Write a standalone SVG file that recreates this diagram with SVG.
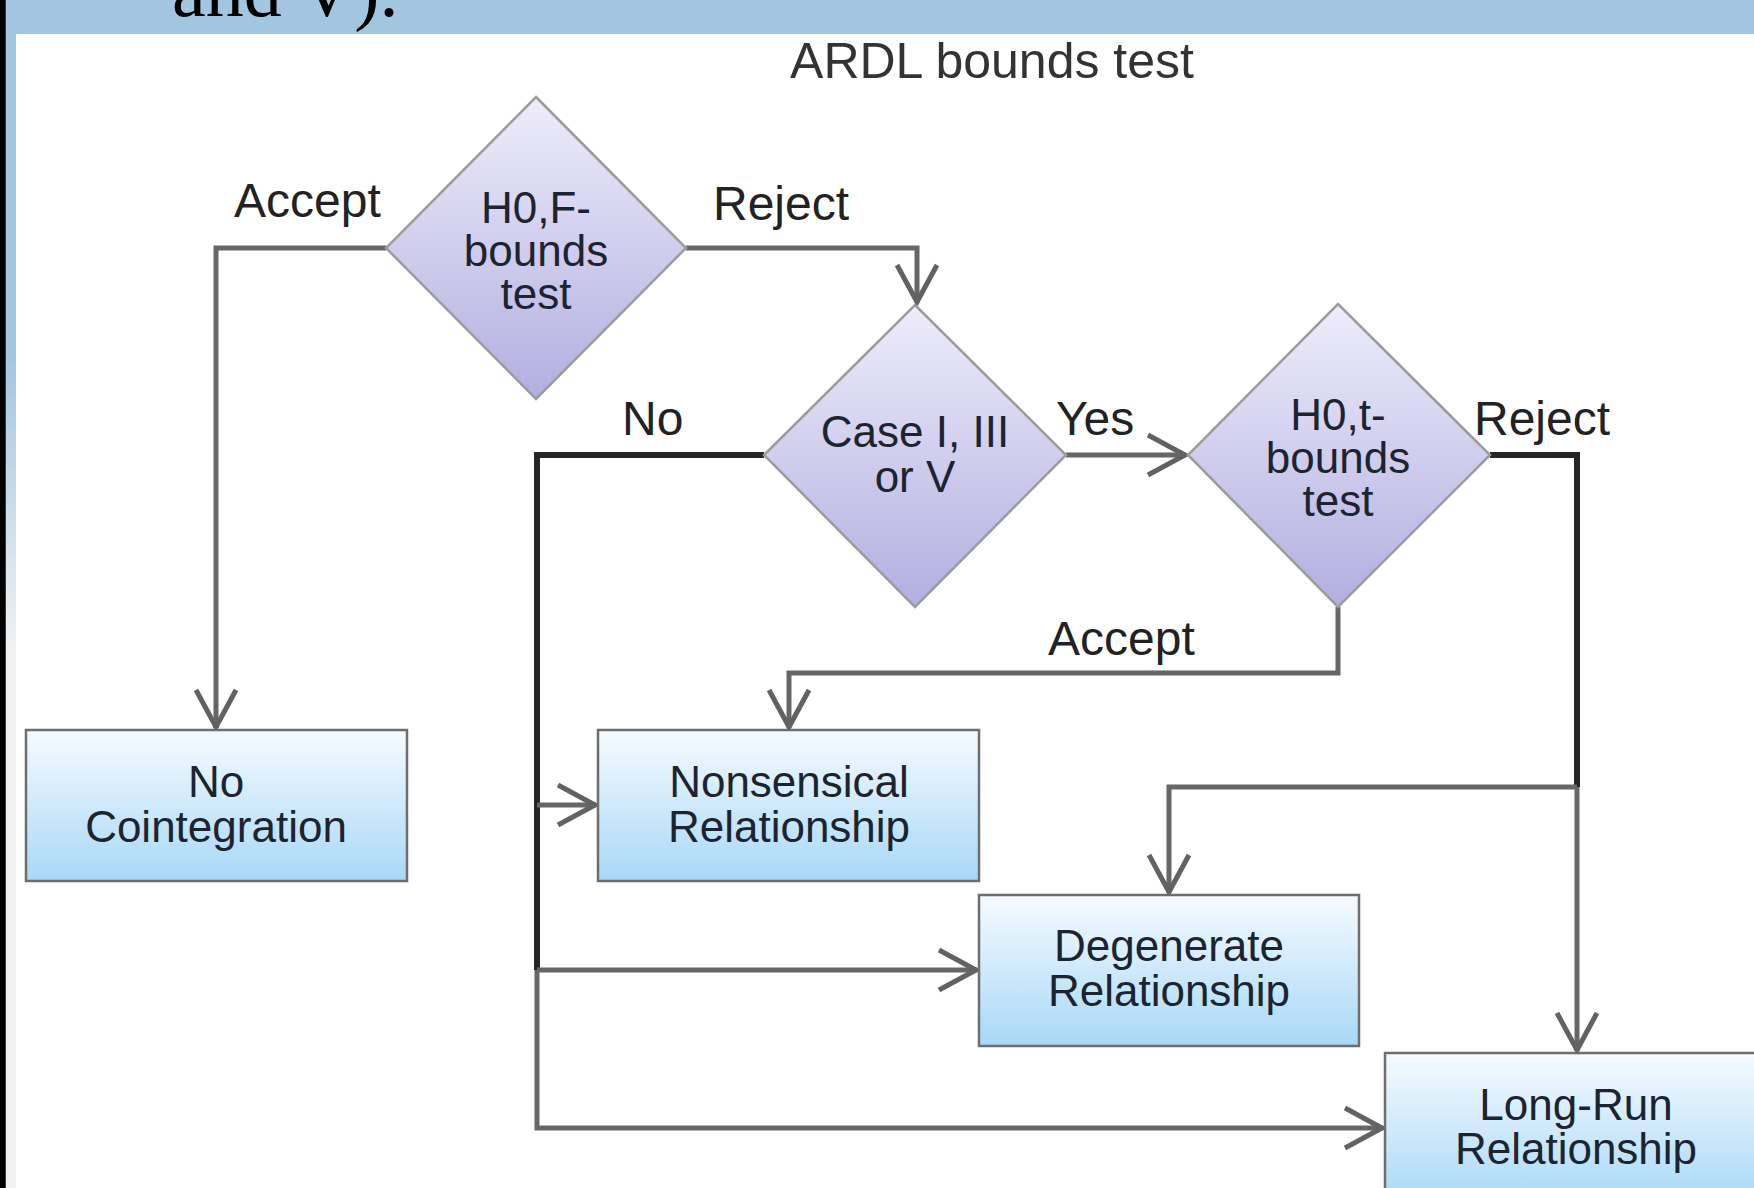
<svg xmlns="http://www.w3.org/2000/svg" width="1754" height="1188" viewBox="0 0 1754 1188">
  <defs>
    <linearGradient id="gDia" x1="0" y1="0" x2="0" y2="1">
      <stop offset="0" stop-color="#eeedfb"/>
      <stop offset="1" stop-color="#b2aee0"/>
    </linearGradient>
    <linearGradient id="gBox" x1="0" y1="0" x2="0" y2="1">
      <stop offset="0" stop-color="#f6fbff"/>
      <stop offset="1" stop-color="#a8d8f7"/>
    </linearGradient>
    <linearGradient id="gStrip" x1="0" y1="0" x2="0" y2="1">
      <stop offset="0" stop-color="#a3c6e0"/>
      <stop offset="0.3" stop-color="#a3c6e0"/>
      <stop offset="0.55" stop-color="#f2f2f2"/>
      <stop offset="1" stop-color="#f2f2f2"/>
    </linearGradient>
    <marker id="arr" viewBox="-45 -25 50 50" refX="0" refY="0" markerWidth="50" markerHeight="50" markerUnits="userSpaceOnUse" orient="auto" overflow="visible">
      <path d="M-38,-20 L-1,0 L-38,20" fill="none" stroke="#626262" stroke-width="5" stroke-linejoin="miter"/>
    </marker>
    <style>
      .dia { fill: url(#gDia); stroke: #9c9c9c; stroke-width: 2.5; }
      .box { fill: url(#gBox); stroke: #6e6e6e; stroke-width: 2.5; }
      .ntxt { font-family: "Liberation Sans", Arial, sans-serif; font-size: 44px; fill: #1c2430; text-anchor: middle; }
      .lbl { font-family: "Liberation Sans", Arial, sans-serif; font-size: 48px; fill: #222222; }
      .title { font-family: "Liberation Sans", Arial, sans-serif; font-size: 50px; fill: #333333; text-anchor: middle; }
      .con { fill: none; stroke: #666666; stroke-width: 5; }
      .dark { fill: none; stroke: #262626; stroke-width: 6; }
    </style>
  </defs>

  <rect x="0" y="0" width="1754" height="1188" fill="#ffffff"/>
  <rect x="0" y="0" width="1754" height="34" fill="#a3c6e0"/>
  <rect x="5" y="0" width="11" height="1188" fill="url(#gStrip)"/>
  <rect x="0" y="0" width="5" height="1188" fill="#000000"/>
  <rect x="5" y="0" width="1" height="1188" fill="#3a3a3a"/>
  <text x="172" y="16" font-family="Liberation Serif, Times New Roman, serif" font-size="76" fill="#000000">and V).</text>

  <text class="title" x="992" y="78">ARDL bounds test</text>

  <g id="connectors">
    <path class="con" d="M386,248 H216 V728" marker-end="url(#arr)"/>
    <path class="con" d="M686,248 H917 V303" marker-end="url(#arr)"/>
    <path class="dark" d="M764,455 H537 V970"/>
    <path class="con" d="M537,970 V1128 H1383" marker-end="url(#arr)"/>
    <path class="con" d="M537,805 H596" marker-end="url(#arr)"/>
    <path class="con" d="M537,970 H977" marker-end="url(#arr)"/>
    <path class="con" d="M1066,455 H1186" marker-end="url(#arr)"/>
    <path class="dark" d="M1490,455 H1577 V787"/>
    <path class="con" d="M1577,787 V1051" marker-end="url(#arr)"/>
    <path class="con" d="M1577,787 H1169 V893" marker-end="url(#arr)"/>
    <path class="con" d="M1338,607 V673 H789 V728" marker-end="url(#arr)"/>
    <text class="lbl" x="234" y="217">Accept</text>
    <text class="lbl" x="713" y="220">Reject</text>
    <text class="lbl" x="622" y="435">No</text>
    <text class="lbl" x="1056" y="435">Yes</text>
    <text class="lbl" x="1474" y="435">Reject</text>
    <text class="lbl" x="1048" y="655">Accept</text>
  </g>

  <g id="d1">
    <polygon class="dia" points="536,97 686,248 536,399 386,248"/>
    <text class="ntxt" x="536" y="223">H0,F-</text>
    <text class="ntxt" x="536" y="266">bounds</text>
    <text class="ntxt" x="536" y="309">test</text>
  </g>
  <g id="d2">
    <polygon class="dia" points="915,305 1066,455 915,607 764,455"/>
    <text class="ntxt" x="915" y="447">Case I, III</text>
    <text class="ntxt" x="915" y="492">or V</text>
  </g>
  <g id="d3">
    <polygon class="dia" points="1338,304 1490,455 1338,607 1188,455"/>
    <text class="ntxt" x="1338" y="430">H0,t-</text>
    <text class="ntxt" x="1338" y="473">bounds</text>
    <text class="ntxt" x="1338" y="516">test</text>
  </g>

  <g id="noCoint">
    <rect class="box" x="26" y="730" width="381" height="151"/>
    <text class="ntxt" x="216" y="797">No</text>
    <text class="ntxt" x="216" y="842">Cointegration</text>
  </g>
  <g id="nonsensical">
    <rect class="box" x="598" y="730" width="381" height="151"/>
    <text class="ntxt" x="789" y="797">Nonsensical</text>
    <text class="ntxt" x="789" y="842">Relationship</text>
  </g>
  <g id="degenerate">
    <rect class="box" x="979" y="895" width="380" height="151"/>
    <text class="ntxt" x="1169" y="961">Degenerate</text>
    <text class="ntxt" x="1169" y="1006">Relationship</text>
  </g>
  <g id="longrun">
    <rect class="box" x="1385" y="1053" width="382" height="151"/>
    <text class="ntxt" x="1576" y="1120">Long-Run</text>
    <text class="ntxt" x="1576" y="1164">Relationship</text>
  </g>
</svg>
